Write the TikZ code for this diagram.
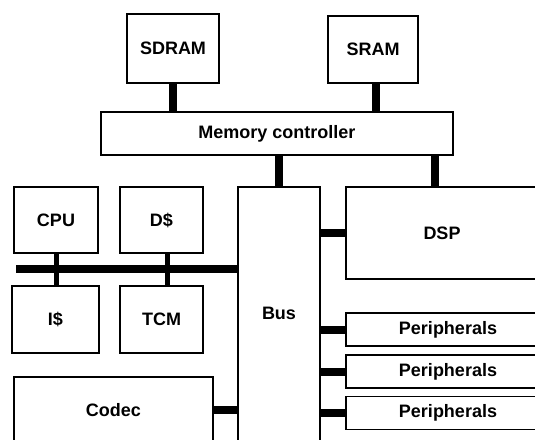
\documentclass[tikz,border=0pt]{standalone}
\usepackage{fontspec}
\setmainfont{Liberation Sans}
\usetikzlibrary{positioning}

\begin{document}
\begin{tikzpicture}[x=1pt,y=-1pt,
  blk/.style={draw,line width=1.6pt,inner sep=0pt,font=\bfseries\fontsize{18}{20}\selectfont},
  bar/.style={line width=8pt},
  thinbar/.style={line width=5pt}]
\useasboundingbox (0,0) rectangle (535,439);
\clip (0,0) rectangle (535,439);
\node[blk,minimum width=92,minimum height=69] (sdram) at (173,48.5) {SDRAM};
\node[blk,minimum width=90,minimum height=67] (sram) at (373,49.5) {SRAM};
\node[blk,minimum width=352,minimum height=43] (mc) at (277,133.5) {Memory controller};
\node[blk,minimum width=84,minimum height=66] (cpu) at (56,220) {CPU};
\node[blk,minimum width=83,minimum height=66] (dcache) at (161.5,220) {D\$};
\node[blk,minimum width=87,minimum height=67] (icache) at (55.5,319.5) {I\$};
\node[blk,minimum width=83,minimum height=67] (tcm) at (161.5,319.5) {TCM};
\node[blk,minimum width=199,minimum height=66] (codec) at (113.5,410) {Codec};
\node[blk,minimum width=82,minimum height=260,
  label={[font=\bfseries\fontsize{18}{20}\selectfont,yshift=4]center:Bus}] (bus) at (279,317) {};
\node[blk,minimum width=192,minimum height=92] (dsp) at (442,233) {DSP};
\foreach \y [count=\i] in {329.5,371.5,413}
  \node[blk,minimum width=204,minimum height=33] (per\i) at (448,\y) {Peripherals};
\coordinate (lb) at (16,269);

\draw[bar] (sdram.south) -- (sdram.south |- mc.north);
\draw[bar] ([xshift=3]sram.south) -- ([xshift=3]sram.south |- mc.north);
\draw[bar] (bus.north |- mc.south) -- (bus.north);
\draw[bar] ([xshift=-7]dsp.north) -- ([xshift=-7]dsp.north |- mc.south);
\draw[bar] (lb) -- (lb -| bus.west);
\draw[thinbar] (cpu.south) -- (cpu.south |- icache.north);
\draw[thinbar] ([xshift=5.5]dcache.south) -- ([xshift=5.5]dcache.south |- tcm.north);
\draw[bar] (bus.east |- dsp) -- (dsp.west);
\foreach \i in {1,2,3}
  \draw[bar] (bus.east |- per\i) -- (per\i.west);
\draw[bar] (codec.east) -- (codec.east -| bus.west);
\end{tikzpicture}
\end{document}
